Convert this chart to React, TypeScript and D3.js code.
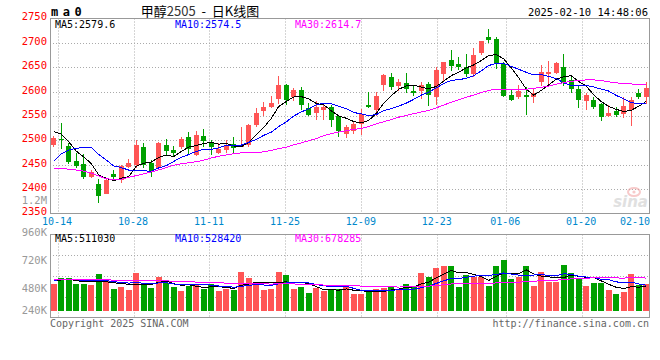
import React from "react";
import * as d3 from "d3";

const dates = [
  "10-11","10-14","10-15","10-16","10-17","10-18","10-21","10-22","10-23","10-24",
  "10-25","10-28","10-29","10-30","10-31","11-01","11-04","11-05","11-06","11-07",
  "11-08","11-11","11-12","11-13","11-14","11-15","11-18","11-19","11-20","11-21",
  "11-22","11-25","11-26","11-27","11-28","11-29","12-02","12-03","12-04","12-05",
  "12-06","12-09","12-10","12-11","12-12","12-13","12-16","12-17","12-18","12-19",
  "12-20","12-23","12-24","12-25","12-26","12-27","12-30","12-31","01-02","01-03",
  "01-06","01-07","01-08","01-09","01-10","01-13","01-14","01-15","01-16","01-17",
  "01-20","01-21","01-22","01-23","01-24","01-27","02-05","02-06","02-07","02-10",
];
const openP = [
  2491,2503,2488,2457,2452,2424,2411,2391,2431,2418, 2446,2450,2487,2454,2443,2491,2481,2486,2506,2470,
  2508,2496,2475,2480,2492,2487,2491,2532,2561,2568, 2584,2614,2588,2603,2566,2557,2562,2569,2549,2514,
  2520,2534,2573,2562,2614,2629,2612,2617,2602,2602, 2616,2588,2636,2664,2657,2651,2636,2680,2713,2707,
  2657,2593,2589,2593,2588,2620,2636,2638,2651,2624, 2605,2580,2583,2575,2550,2561,2554,2562,2598,2589,
];
const highP = [
  2509,2536,2494,2475,2472,2439,2421,2421,2440,2450, 2462,2501,2494,2460,2497,2503,2489,2506,2517,2520,
  2524,2500,2494,2500,2506,2528,2533,2566,2578,2591, 2632,2616,2607,2609,2576,2580,2575,2573,2552,2532,
  2538,2564,2600,2600,2636,2639,2625,2638,2614,2620, 2620,2650,2660,2685,2672,2677,2690,2704,2728,2712,
  2660,2605,2614,2609,2607,2655,2663,2660,2677,2631, 2612,2598,2588,2576,2573,2569,2588,2588,2606,2620,
];
const lowP = [
  2486,2482,2452,2443,2421,2422,2372,2390,2418,2413, 2443,2443,2443,2424,2440,2469,2465,2482,2470,2468,
  2487,2469,2473,2475,2475,2486,2487,2527,2550,2566, 2575,2573,2580,2562,2550,2542,2542,2528,2507,2504,
  2513,2511,2566,2549,2602,2603,2602,2597,2592,2584, 2571,2573,2621,2642,2645,2631,2631,2675,2699,2646,
  2588,2580,2584,2552,2577,2612,2610,2636,2611,2597, 2566,2562,2564,2540,2548,2547,2545,2530,2584,2575,
];
const closeP = [
  2504,2500,2455,2447,2424,2436,2385,2418,2424,2448, 2454,2490,2450,2436,2495,2479,2474,2502,2482,2511,
  2499,2487,2482,2491,2484,2491,2532,2557,2569,2576, 2614,2583,2603,2573,2552,2568,2569,2542,2520,2528,
  2534,2554,2569,2591,2634,2610,2620,2605,2597,2614, 2593,2644,2660,2653,2650,2636,2675,2704,2706,2659,
  2591,2583,2602,2590,2597,2641,2641,2658,2617,2605, 2583,2593,2569,2547,2557,2552,2571,2582,2588,2607,
];
// closes before the visible window (needed for the moving averages at the left edge)
const priorCloses = [
  2530,2500,2500,2490,2550,2570,2580,2490,2420,2330, 2390,2340,2320,2370,2335,2330,2410,2420,2445,2410,
  2350,2375,2407,2414,2434,2525,2535,2542,2484,
];
const volume = [
  534000,591000,591000,534000,534000,525000,620000,560000,491000,508000,
  483000,628000,542000,500000,594000,548000,508000,474000,520000,534000,
  497000,534000,474000,497000,483000,637000,585000,548000,483000,494000,
  637000,611000,491000,508000,457000,503000,474000,491000,491000,508000,
  448000,448000,466000,491000,503000,514000,491000,534000,514000,628000,
  594000,671000,688000,688000,508000,611000,594000,600000,517000,688000,
  740000,577000,594000,688000,517000,637000,551000,551000,697000,628000,
  577000,517000,542000,548000,483000,448000,466000,620000,525000,534000,
];
const priorVolume = [
  602000,548000,585000,631000,570000,523000,596000,648000,560000,540000,
  590000,615000,552000,530000,580000,625000,598000,545000,572000,606000,
  560000,520000,588000,612000,566000,580000,560000,590000,574000,
];

const tickDates = ["10-14","10-28","11-11","11-25","12-09","12-23","01-06","01-20","02-10"];
const priceTicks = [2750,2700,2650,2600,2550,2500,2450,2400,2350];
const volTicks = [960000,720000,480000,240000];
const volTickLabels = ["960K","720K","480K","240K"];
const priceLegend = ["MA5:2579.6","MA10:2574.5","MA30:2614.7"];
const volLegend = ["MA5:511030","MA10:528420","MA30:678285"];
const maPeriods = [5,10,30];
const maColors = ["#000000","#0000ff","#ff00ff"];

const UP = "#ff5555";
const DOWN = "#00a000";
const MONO = "'DejaVu Sans Mono', 'Liberation Mono', monospace";

function movingAvg(prior: number[], vals: number[], p: number): number[] {
  const all = prior.concat(vals);
  return vals.map((_, i) => {
    const k = prior.length + i;
    return d3.mean(all.slice(k - p + 1, k + 1)) as number;
  });
}

export default function App() {
  const W = 660, H = 360, L = 50, R = 650;
  const pTop = 18.5, pBot = 213.5, vTop = 234.5, vBot = 317.5;
  const n = dates.length;
  const idx = d3.range(n);
  const x = d3.scaleBand<number>().domain(idx).range([L, R]);
  const cx = (i: number) => (x(i) as number) + x.bandwidth() / 2;
  const xg = d3.scaleLinear().domain([0, n - 1]).range([L, R]);
  const y = d3.scaleLinear().domain([2350, 2750]).range([pBot, pTop]);
  const yv = d3.scaleLinear().domain([0, 960000]).range([346.5, vTop]);
  const volBase = vBot - 6.5;
  const px = (v: number) => Math.round(v) + 0.5;

  const priceLine = d3.line<number>().x((_, i) => cx(i)).y((d) => y(d));
  const volLine = d3.line<number>().x((_, i) => cx(i)).y((d) => yv(d));

  const gridIdx = tickDates.map((d) => dates.indexOf(d));
  const vGrid = [1, 2, 3].map((k) => vTop + ((vBot - vTop) * k) / 4);

  return (
    <svg width={W} height={H} style={{ position: "absolute", left: 0, top: 0, background: "#fff" }}
      fontFamily={MONO}>
      <rect x={0} y={0} width={W} height={H} fill="#fff" />

      {/* header */}
      <text x={51} y={16} fontSize={12} fontWeight="bold" letterSpacing={4.5} fill="#000">ma0</text>
      <text x={200} y={16} fontSize={13} textAnchor="middle" fill="#000" style={{ whiteSpace: "pre" }}
        fontFamily="'Noto Sans CJK SC', sans-serif">
        甲醇<tspan fill="#333">2505</tspan>{"  -  "}日K线图
      </text>
      <text x={648} y={15.5} fontSize={10.5} textAnchor="end" fill="#000">2025-02-10 14:48:06</text>

      {/* price grid */}
      {priceTicks.slice(1, -1).map((t) => (
        <line key={"hp" + t} x1={L} x2={R} y1={px(y(t))} y2={px(y(t))}
          stroke="#aaa" strokeDasharray="1,2" />
      ))}
      {gridIdx.slice(0, -1).map((gi) => (
        <line key={"vp" + gi} x1={px(xg(gi))} x2={px(xg(gi))} y1={pTop} y2={pBot}
          stroke="#aaa" strokeDasharray="1,2" />
      ))}
      {/* volume grid */}
      {vGrid.map((g, k) => (
        <line key={"hv" + k} x1={L} x2={R} y1={px(g)} y2={px(g)} stroke="#aaa" strokeDasharray="1,2" />
      ))}
      {gridIdx.slice(0, -1).map((gi) => (
        <line key={"vv" + gi} x1={px(xg(gi))} x2={px(xg(gi))} y1={vTop} y2={vBot}
          stroke="#aaa" strokeDasharray="1,2" />
      ))}

      {/* watermark */}
      <g opacity={0.55}>
        <ellipse cx={634} cy={192} rx={6} ry={4} fill="none" stroke="#f2a0a0" strokeWidth={2} />
        <circle cx={634} cy={192} r={1.6} fill="#f2a0a0" />
        <text x={648} y={207} fontSize={15} fontStyle="italic" fontWeight="bold" textAnchor="end"
          fill="#c8c8c8" fontFamily="'DejaVu Sans', sans-serif">sina</text>
      </g>

      {/* candles */}
      {idx.map((i) => {
        const up = closeP[i] >= openP[i];
        const col = up ? UP : DOWN;
        const bx = Math.round(cx(i) - 2.5);
        const top = Math.round(y(Math.max(openP[i], closeP[i])));
        const bot = Math.round(y(Math.min(openP[i], closeP[i])));
        return (
          <g key={"c" + i} shapeRendering="crispEdges">
            <line x1={bx + 2.5} x2={bx + 2.5} y1={Math.round(y(highP[i]))} y2={Math.round(y(lowP[i]))}
              stroke={col} strokeWidth={1} />
            <rect x={bx} y={top} width={5} height={Math.max(1, bot - top)} fill={col} />
          </g>
        );
      })}

      {/* price moving averages */}
      {maPeriods.map((p, k) => (
        <path key={"pm" + p} d={priceLine(movingAvg(priorCloses, closeP, p)) as string}
          fill="none" stroke={maColors[k]} strokeWidth={1} shapeRendering="crispEdges" />
      ))}

      {/* volume bars */}
      {idx.map((i) => {
        const up = closeP[i] >= openP[i];
        const top = Math.round(yv(volume[i]));
        return (
          <rect key={"v" + i} x={Math.round(cx(i) - 3)} y={top} width={6}
            height={Math.max(1, Math.round(volBase) - top)} fill={up ? UP : DOWN} shapeRendering="crispEdges" />
        );
      })}
      {maPeriods.map((p, k) => (
        <path key={"vm" + p} d={volLine(movingAvg(priorVolume, volume, p)) as string}
          fill="none" stroke={maColors[k]} strokeWidth={1} shapeRendering="crispEdges" />
      ))}

      {/* borders */}
      <rect x={L + 0.5} y={pTop} width={R - L - 1} height={pBot - pTop} fill="none" stroke="#999" />
      <rect x={L + 0.5} y={vTop} width={R - L - 1} height={vBot - vTop} fill="none" stroke="#999" />

      {/* legends */}
      {priceLegend.map((t, k) => (
        <text key={"pl" + k} x={55 + 120 * k} y={24} dy="0.35em" fontSize={10} fill={maColors[k]}>{t}</text>
      ))}
      {volLegend.map((t, k) => (
        <text key={"vl" + k} x={55 + 120 * k} y={238.5} dy="0.35em" fontSize={10} fill={maColors[k]}>{t}</text>
      ))}

      {/* price axis labels */}
      {priceTicks.map((t) => (
        <text key={"pt" + t} x={47} y={y(t) - 1.7} dy="0.35em" fontSize={10.5} textAnchor="end" fill="#ff0000">{t}</text>
      ))}
      <text x={47} y={200} dy="0.35em" fontSize={10.5} textAnchor="end" fill="#999">1.2M</text>

      {/* date labels */}
      {tickDates.map((d, k) => {
        const gx = xg(gridIdx[k]);
        const last = gx + 16 > R;
        return (
          <text key={"dt" + d} x={last ? R : gx - 0.5} y={221.7} dy="0.35em" fontSize={10}
            textAnchor={last ? "end" : "middle"} fill="#0088cc">{d}</text>
        );
      })}

      {/* volume axis labels */}
      {volTicks.map((t, k) => (
        <text key={"vt" + t} x={47} y={Math.min(yv(t) - 2, 310)} dy="0.35em" fontSize={10.5}
          textAnchor="end" fill="#999">{volTickLabels[k]}</text>
      ))}

      {/* footer */}
      <text x={50} y={323.3} dy="0.35em" fontSize={10} fill="#666">Copyright 2025 SINA.COM</text>
      <text x={649} y={323.3} dy="0.35em" fontSize={10} textAnchor="end" fill="#666">http://finance.sina.com.cn</text>
    </svg>
  );
}
